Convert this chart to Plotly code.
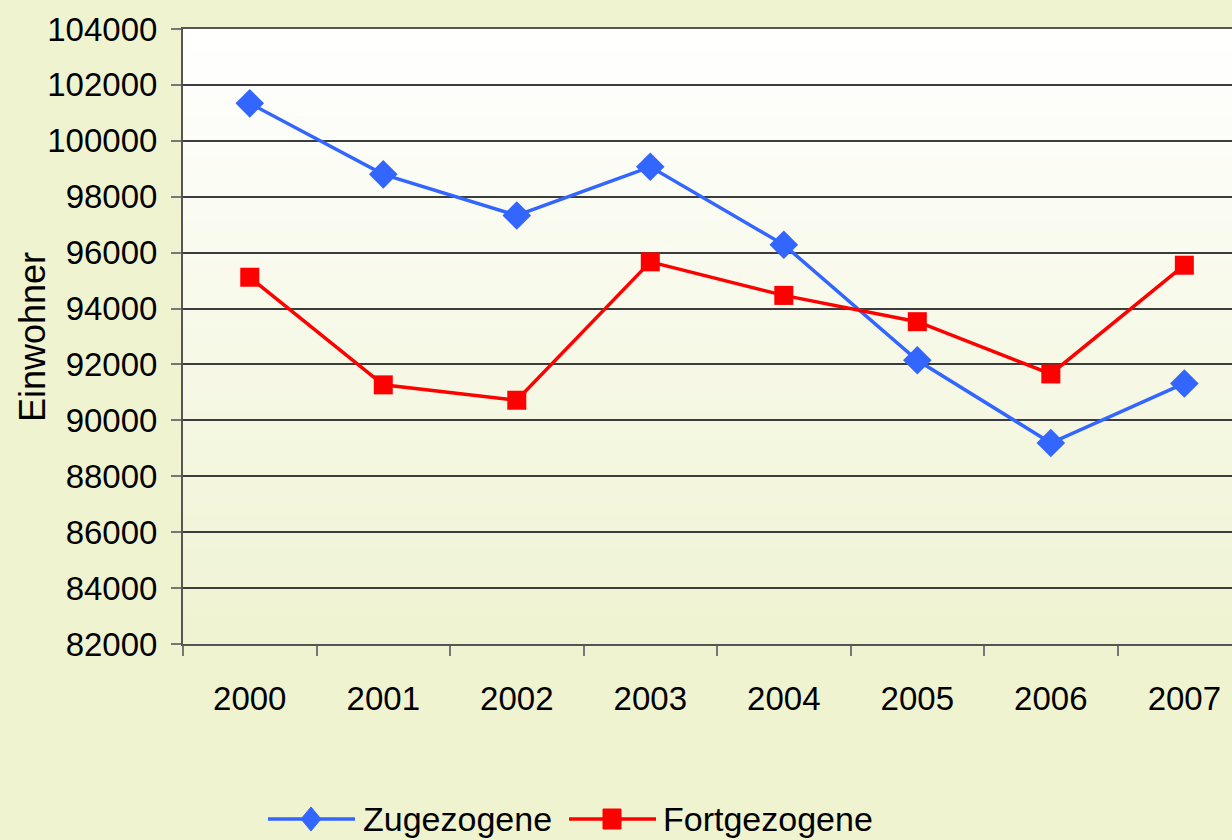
import plotly.graph_objects as go

years = ["2000", "2001", "2002", "2003", "2004", "2005", "2006", "2007"]
zugezogene = [101340, 98800, 97330, 99070, 96280, 92150, 89190, 91320]
fortgezogene = [95120, 91270, 90720, 95670, 94470, 93530, 91660, 95550]
y_ticks = list(range(82000, 104001, 2000))

BLUE = "#3366FF"
RED = "#FF0000"
BG = "#EFF3CF"
FONT = "Liberation Sans, Arial, sans-serif"

W, H = 1232, 840
L, T, B = 183, 29, 644
PW, PH = W - L, B - T

def px(x):
    return (x - L) / PW

def py(y):
    return (B - y) / PH

fig = go.Figure()
fig.add_trace(go.Scatter(x=years, y=zugezogene, mode="lines+markers", name="Zugezogene",
                         line=dict(color=BLUE, width=3.5),
                         marker=dict(symbol="diamond", size=22, color=BLUE),
                         showlegend=False))
fig.add_trace(go.Scatter(x=years, y=fortgezogene, mode="lines+markers", name="Fortgezogene",
                         line=dict(color=RED, width=3.5),
                         marker=dict(symbol="square", size=19, color=RED),
                         showlegend=False))

shapes = []
# vertical gradient background of the plot area (white -> pale yellow-green)
N = 90
top_c = (255, 255, 255)
bot_c = (239, 243, 209)
for i in range(N):
    f = (i + 0.5) / N
    c = tuple(round(top_c[k] + (bot_c[k] - top_c[k]) * f) for k in range(3))
    shapes.append(dict(type="rect", xref="x domain", yref="y domain",
                       x0=0, x1=1, y0=1 - (i + 1) / N - 0.002, y1=1 - i / N,
                       fillcolor="rgb(%d,%d,%d)" % c, line=dict(width=0), layer="below"))

# manual legend
leg_y = py(819)
for cx, color, sym in [(311, BLUE, "diamond"), (612, RED, "square")]:
    shapes.append(dict(type="line", xref="paper", yref="paper", xsizemode="pixel", ysizemode="pixel",
                       xanchor=px(cx), yanchor=leg_y, x0=-43, x1=44, y0=0, y1=0,
                       line=dict(color=color, width=3.5)))
    if sym == "diamond":
        path = "M -10,0 L 0,12 L 10,0 L 0,-12 Z"
    else:
        path = "M -9,-10 L 9,-10 L 9,10 L -9,10 Z"
    shapes.append(dict(type="path", xref="paper", yref="paper", xsizemode="pixel", ysizemode="pixel",
                       xanchor=px(cx), yanchor=leg_y, path=path,
                       fillcolor=color, line=dict(color=color, width=1)))

annotations = [
    dict(text="Zugezogene", xref="paper", yref="paper", x=px(361), y=leg_y, xanchor="left",
         yanchor="middle", showarrow=False, font=dict(family=FONT, size=34, color="black")),
    dict(text="Fortgezogene", xref="paper", yref="paper", x=px(661), y=leg_y, xanchor="left",
         yanchor="middle", showarrow=False, font=dict(family=FONT, size=34, color="black")),
    dict(text="Einwohner", xref="paper", yref="paper", x=px(33), y=py(337), xanchor="center",
         yanchor="middle", textangle=-90, showarrow=False,
         font=dict(family=FONT, size=36, color="black")),
]

fig.update_layout(
    width=W, height=H,
    margin=dict(l=L, r=0, t=T, b=H - B, pad=0),
    paper_bgcolor=BG,
    plot_bgcolor="rgba(0,0,0,0)",
    font=dict(family=FONT, size=33, color="black"),
    shapes=shapes,
    annotations=annotations,
    showlegend=False,
)
fig.update_xaxes(
    type="category", range=[-0.5, 7.357], tickson="boundaries",
    ticks="outside", ticklen=10, tickwidth=2, tickcolor="#777777",
    showline=True, linecolor="#555555", linewidth=2, mirror=True,
    showgrid=False, ticklabelstandoff=24,
    tickfont=dict(family=FONT, size=33, color="black"),
)
fig.update_yaxes(
    range=[82000, 104000], tickvals=y_ticks, ticktext=[str(v) for v in y_ticks],
    ticks="outside", ticklen=10, tickwidth=2, tickcolor="#777777",
    showline=True, linecolor="#555555", linewidth=2,
    showgrid=True, gridcolor="#3c3c3c", gridwidth=1.5,
    zeroline=False, ticklabelstandoff=7,
    tickfont=dict(family=FONT, size=33, color="black"),
)

fig.write_html(
    "out.html",
    config={"displayModeBar": False},
    post_script="document.body.style.margin='0';document.body.style.overflow='hidden';"
                "document.body.style.background='" + BG + "';",
)
